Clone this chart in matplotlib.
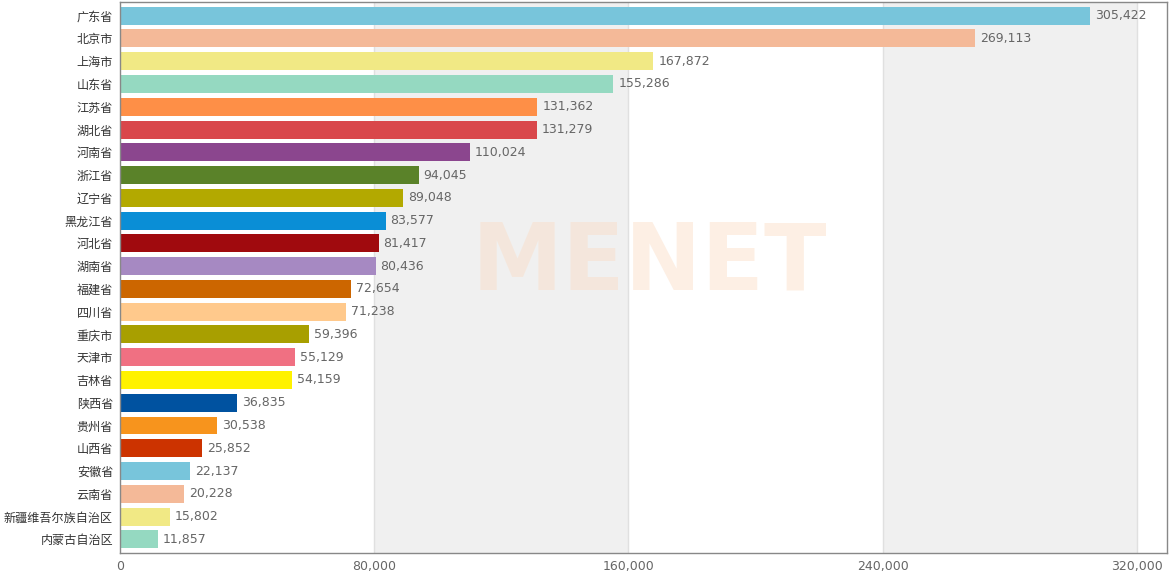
import matplotlib
matplotlib.use('Agg')
import matplotlib.pyplot as plt

plt.rcParams['font.family'] = ['Noto Sans CJK SC', 'DejaVu Sans']

provinces = ['广东省', '北京市', '上海市', '山东省', '江苏省', '湖北省', '河南省', '浙江省',
             '辽宁省', '黑龙江省', '河北省', '湖南省', '福建省', '四川省', '重庆市', '天津市',
             '吉林省', '陕西省', '贵州省', '山西省', '安徽省', '云南省', '新疆维吾尔族自治区', '内蒙古自治区']
values = [305422, 269113, 167872, 155286, 131362, 131279, 110024, 94045,
          89048, 83577, 81417, 80436, 72654, 71238, 59396, 55129,
          54159, 36835, 30538, 25852, 22137, 20228, 15802, 11857]
colors = ['#78c5db', '#f4b998', '#f1e985', '#95d9c1', '#fe8f47', '#d9474b', '#8b468e', '#5a8229',
          '#b3a900', '#0a8ed6', '#a00a0e', '#a689c2', '#cc6600', '#ffc98c', '#a89f00', '#f07082',
          '#fff200', '#0052a0', '#f7941d', '#cc3300', '#78c5db', '#f4b998', '#f1e985', '#95d9c1']
xticks = [0, 80000, 160000, 240000, 320000]

fig = plt.figure(figsize=(11.7, 5.73), dpi=100)
ax = fig.add_axes([0.1026, 0.0349, 0.8948, 0.9616])

# alternating background bands
for i in range(len(xticks) - 1):
    if i % 2 == 1:
        ax.axvspan(xticks[i], xticks[i + 1], color='#f0f0f0', zorder=0, lw=0)
for x in xticks[1:]:
    ax.axvline(x, color='#e0e0e0', lw=1, zorder=0.5)

y = list(range(len(provinces)))
ax.barh(y, values, height=0.79, color=colors, zorder=2)

for yi, v in zip(y, values):
    ax.text(v + 1500, yi, f'{v:,}', va='center', ha='left', fontsize=9,
            family='DejaVu Sans', color='#666666', zorder=3)

ax.set_yticks(y)
ax.set_yticklabels(provinces, fontsize=8.7, color='#333333')
ax.set_xticks(xticks)
ax.set_xticklabels([f'{t:,}' for t in xticks], fontsize=9, family='DejaVu Sans', color='#666666')
ax.tick_params(axis='y', length=0, pad=5)
ax.tick_params(axis='x', length=0, pad=5)
ax.set_xlim(0, 329500)
ax.set_ylim(23.6, -0.6)

for s in ax.spines.values():
    s.set_color('#888888')
    s.set_linewidth(1)

# faint watermark
ax.text(0.506, 0.525, 'MENET', transform=ax.transAxes, fontsize=66, fontweight='bold',
        family='DejaVu Sans', color='#fbdcc4', alpha=0.45, ha='center', va='center', zorder=2.5)

fig.savefig('out.png', dpi=100)
